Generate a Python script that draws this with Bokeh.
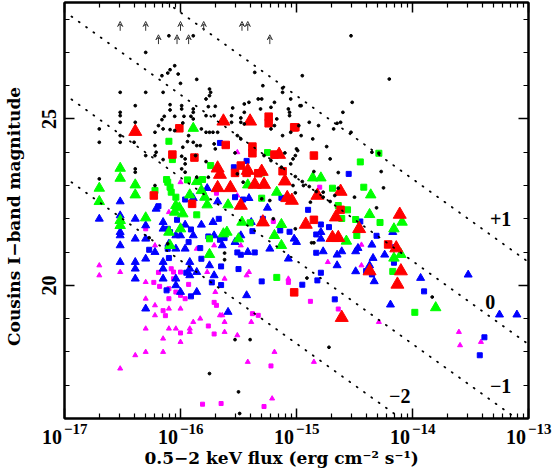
from bokeh.plotting import figure
from bokeh.models import ColumnDataSource, FixedTicker, Arrow, VeeHead, LinearAxis, LogAxis, Range1d
from bokeh.core.properties import value
from bokeh.embed import file_html
from bokeh.resources import INLINE

SERIF = "DejaVu Serif"
NUM = "Liberation Serif"
NB = "\u00a0"

# log10(flux), Cousins I magnitude
black_x = [-16.10,-15.89,-16.30,-16.05,-16.09,-16.11,-16.16,-16.02,-15.86,-16.00,-16.52,-16.30,-16.15,-15.75,-15.74,-15.75,-15.78,-15.29,-15.36,-15.12,-15.12,-15.05,-14.97,-16.39,-16.52,-16.52,-16.52,-16.39,-16.70,-16.52,-16.70,-16.52,-16.40,-16.09,-15.99,-15.99,-16.09,-15.76,-15.70,-15.89,-15.55,-15.45,-15.41,-15.33,-15.30,-15.19,-15.22,-15.07,-15.06,-15.06,-15.17,-15.45,-15.48,-15.31,-15.89,-15.91,-15.97,-16.05,-16.14,-16.16,-16.19,-16.22,-16.09,-16.05,-16.15,-15.98,-15.89,-15.78,-15.71,-15.56,-15.56,-15.48,-15.45,-15.68,-15.19,-15.12,-15.05,-15.22,-15.51,-15.48,-15.75,-15.78,-15.72,-15.82,-15.93,-15.94,-15.98,-15.89,-15.86,-15.83,-15.71,-15.70,-16.22,-16.21,-16.30,-16.22,-16.15,-15.99,-15.87,-15.96,-15.96,-15.99,-15.78,-15.53,-15.28,-15.10,-16.39,-16.39,-16.70,-16.22,-15.96,-15.86,-15.76,-15.51,-15.46,-15.22,-15.05,-14.99,-15.30,-15.13,-15.23,
           -14.53,-14.95,-14.20,-14.52,-14.60,-14.62,-14.65,-14.68,-14.53,-14.89,-14.81,-14.98,-14.96,-14.86,-14.74,-15.00,-15.01,-15.03,-14.71,-14.85,-14.64,-14.27,-15.01,-14.95,-15.03,-14.94,-14.89,-15.01,-14.83,-14.77,-14.64,-14.67,-14.77,-14.88,-14.71,-14.50,-14.25,-14.31,-14.96,-14.29,-14.35,
           -15.62,-15.62,-15.53,-15.40,-15.75,-15.50,-15.49,-16.11,-15.20,-16.27,-14.72,-13.83,-15.01,-14.87,-14.85,-14.91]
black_y = [27.50,27.50,27.00,26.60,26.48,26.38,26.30,26.35,26.19,26.07,25.80,25.80,25.80,25.90,25.80,25.70,25.60,26.00,26.40,25.93,25.80,25.60,25.40,25.40,25.20,25.10,24.90,24.90,24.70,24.50,24.30,24.30,24.30,25.43,25.40,25.30,25.27,25.37,25.38,25.30,25.33,25.45,25.50,25.60,25.60,25.50,25.35,25.30,25.20,25.10,25.00,25.20,25.03,25.30,25.20,25.08,25.08,25.08,25.08,24.98,24.80,24.60,24.68,24.65,24.70,24.88,25.00,25.10,25.10,25.10,24.90,24.90,24.85,24.60,24.80,24.50,24.60,24.70,24.50,24.40,24.60,24.60,24.60,24.70,24.50,24.32,24.15,24.30,24.20,24.20,24.25,24.10,24.20,24.00,23.90,23.90,23.78,23.88,23.90,23.80,23.65,23.50,23.72,23.98,23.90,23.98,23.50,23.40,23.20,23.00,23.40,23.25,23.25,23.35,23.10,23.75,23.65,24.05,22.60,23.55,22.55,
           27.50,26.30,26.20,25.50,25.20,24.90,24.87,24.70,24.60,24.90,24.80,24.80,24.50,24.40,24.17,24.10,23.90,23.80,23.80,23.42,23.39,23.42,23.27,23.12,23.00,23.00,22.97,22.78,22.82,22.80,22.92,22.70,22.65,22.50,22.52,22.65,22.93,22.33,25.40,23.97,24.00,
           20.97,20.77,18.37,18.37,17.35,16.80,16.15,21.25,22.00,21.43,18.14,19.65,21.70,21.28,21.28,20.22]

limit_x = [-16.52,-16.30,-16.00,-15.80,-15.47,-15.42,-16.19,-16.03,-15.93,-15.23]
limit_y = [27.65,27.65,27.65,27.65,27.65,27.65,27.25,27.25,27.25,27.25]

red_tri_x = [-16.39,-15.63,-15.40,-15.15,-15.68,-15.66,-15.30,-15.68,-15.57,-15.42,-15.36,-15.28,-15.10,-15.08,-15.48,-14.82,-14.62,-15.04,-15.29,-14.92,-14.66,-14.69,-14.64,-14.46,-14.11,-14.14,-14.37,-14.10,-14.13,-14.61]
red_tri_y = [24.62,24.93,24.93,23.93,23.52,23.33,23.42,22.93,22.93,23.45,23.03,23.03,23.13,22.63,22.40,22.70,22.82,22.55,21.90,21.83,22.05,21.43,21.43,21.70,22.13,21.12,20.43,20.43,20.03,19.03]
red_sq_x = [-16.01,-15.24,-15.24,-15.02,-15.61,-16.07,-15.88,-15.38,-15.38,-15.48,-15.53,-15.43,-15.33,-15.12,-15.19,-16.23,-15.90,-15.01,-14.85,-14.62,-15.02,-14.85,-14.21]
red_sq_y = [24.72,25.07,24.87,24.75,24.22,23.93,23.84,24.17,23.97,23.60,23.38,23.38,23.37,23.43,23.93,22.70,22.45,24.75,23.90,22.27,19.79,21.97,21.23]

green_tri_x = [-16.52,-16.52,-16.70,-16.70,-16.39,-16.39,-15.89,-15.86,-15.92,-15.77,-16.04,-16.01,-15.42,-15.59,-15.17,-15.79,-15.82,-14.86,-14.79,-14.36,-16.30,-16.52,-16.52,-16.05,-15.98,-16.00,-16.10,-16.09,-15.63,-15.60,-15.50,-15.75,-15.47,-15.13,-15.19,-15.13,-14.37,-14.57,-14.16,-14.09,-14.10,-14.16,-13.80]
green_tri_y = [23.52,23.22,22.92,22.52,23.02,22.72,24.72,23.12,22.72,22.42,22.40,22.33,23.02,22.42,22.80,22.65,22.85,23.23,23.23,22.72,22.03,21.95,21.80,22.20,22.15,21.70,21.60,21.20,21.55,21.60,21.40,20.93,21.90,21.83,21.50,21.20,22.13,21.33,21.70,21.90,20.93,20.82,19.33]
green_sq_x = [-16.10,-16.07,-15.74,-15.94,-15.81,-16.22,-16.12,-16.11,-16.09,-16.08,-16.04,-15.30,-15.25,-15.30,-14.45,-14.29,-14.69,-14.42,-14.64,-14.56,-15.86,-15.75,-15.40,-15.17,-14.61,-14.49,-14.28,-14.48,-14.17,-13.98]
green_sq_y = [24.33,23.78,23.60,23.17,23.18,22.85,23.18,23.10,22.95,22.80,22.65,22.62,23.99,23.38,23.71,23.97,22.92,22.95,22.40,22.27,22.12,21.40,21.88,20.24,22.01,21.98,21.89,21.50,20.42,19.19]

blue_tri_x = [-16.52,-15.41,-15.68,-15.77,-16.21,-15.25,-15.89,-16.70,-16.52,-16.39,-16.30,-16.15,-16.15,-16.52,-16.52,-16.39,-16.30,-15.96,-15.82,-15.72,-15.89,-16.04,-16.00,-16.10,-16.52,-16.22,-16.04,-15.96,-16.30,-16.52,-16.39,-16.39,-16.15,-16.15,-15.92,-15.92,-15.92,-15.86,-16.04,-16.04,-16.15,-16.39,-16.00,-15.86,-16.30,-15.75,-15.71,-15.59,-15.43,-15.64,-15.53,-15.48,-15.71,-15.39,-15.23,-15.07,-15.02,-15.00,-15.42,-14.79,-14.79,-14.77,-14.65,-14.61,-14.49,-14.47,-14.35,-14.24,-14.34,-14.37,-14.65,-14.49,-14.33,-14.19,-13.93,-13.52,-13.25,-13.10,-14.17]
blue_tri_y = [22.52,22.62,22.52,22.92,22.30,22.33,22.62,22.00,22.10,22.00,21.80,21.90,21.70,21.60,21.50,21.40,21.40,21.82,21.82,21.90,21.50,21.50,21.50,21.25,21.20,21.00,21.10,21.10,20.80,20.70,20.70,20.50,20.70,20.50,20.70,20.50,20.30,20.40,20.20,20.00,20.20,20.20,19.80,19.80,19.30,20.60,20.30,19.20,19.70,21.20,21.30,21.50,21.50,21.90,21.10,20.80,21.40,21.30,21.00,21.60,21.40,21.02,20.92,21.02,21.02,21.12,21.22,20.92,20.82,20.60,20.60,20.42,20.12,19.42,20.22,20.32,19.12,19.12,21.60]
blue_sq_x = [-15.66,-15.43,-15.54,-15.53,-15.46,-15.96,-16.19,-15.13,-14.55,-14.90,-16.03,-15.67,-15.91,-16.11,-16.09,-15.83,-15.93,-16.27,-16.11,-16.10,-15.95,-15.82,-15.65,-15.50,-15.30,-15.65,-15.73,-16.12,-15.91,-15.76,-15.66,-15.62,-15.51,-15.48,-15.36,-15.38,-15.14,-15.06,-15.29,-14.79,-14.83,-14.72,-14.45,-14.31,-14.83,-14.79,-14.82,-14.95,-14.67,-14.40,-14.35,-14.16,-13.90,-13.38,-13.42,-14.15]
blue_sq_y = [24.28,23.74,23.55,22.65,22.58,22.58,22.38,22.63,23.35,22.27,21.97,22.00,21.68,21.70,21.60,21.12,21.30,21.07,21.10,20.82,20.38,20.80,20.57,20.49,20.12,20.01,20.09,19.85,19.67,21.47,21.37,21.42,20.99,20.92,20.99,21.63,21.65,21.61,22.00,21.83,21.53,21.75,21.92,21.49,20.98,20.38,20.15,20.02,19.58,20.43,20.33,20.68,19.82,18.44,17.90,21.15]

mag_tri_x = [-16.00,-15.51,-15.51,-16.70,-16.70,-16.52,-16.30,-16.30,-16.22,-16.22,-16.10,-16.00,-16.30,-16.10,-16.04,-15.92,-15.92,-15.89,-15.83,-15.62,-15.62,-16.15,-16.00,-16.39,-16.30,-16.15,-16.52,-15.51,-15.39,-15.42,-15.19,-15.21,-15.64,-15.66,-15.71,-15.48,-15.86,-16.10,-16.22,-15.62,-15.70,-15.77,-15.43,-15.41,-15.07,-14.44,-14.73,-14.44,-14.29,-13.80,-13.60,-13.59,-13.41,-14.85]
mag_tri_y = [23.10,24.00,22.70,20.60,20.30,20.40,20.10,19.60,19.40,19.10,19.30,19.30,18.70,18.70,18.70,18.70,18.60,18.90,19.00,18.90,18.60,18.40,18.30,17.90,18.00,18.00,17.50,18.50,18.90,17.70,18.00,16.60,19.10,19.10,21.20,21.20,21.10,22.20,21.20,20.20,19.80,20.40,20.30,20.40,20.20,21.22,20.70,20.60,18.90,19.37,18.60,18.20,18.30,17.70]
mag_sq_x = [-15.69,-14.80,-16.19,-16.23,-16.18,-16.08,-16.06,-16.00,-16.06,-16.10,-16.04,-16.00,-15.96,-16.10,-15.93,-16.15,-16.13,-15.71,-15.69,-15.76,-15.71,-16.00,-15.22,-15.81,-15.65,-15.28,-15.33,-15.38,-15.07,-15.20,-16.30,-14.88,-14.64]
mag_sq_y = [22.77,22.95,20.39,20.09,19.97,20.50,20.40,20.40,20.20,19.90,19.80,19.70,19.60,19.60,20.03,19.24,19.09,19.49,19.40,18.78,18.54,18.57,17.58,16.43,16.45,16.36,19.10,19.15,20.09,21.92,21.70,19.52,19.29]

ratio_labels = ["+1", "0", "\u22121", "\u22122"]
ratio_label_x = [-13.24, -13.33, -13.24, -14.11]
ratio_label_y = [22.00, 19.49, 16.98, 16.68]
ratio_intercepts = [-11.8, -14.27, -16.76, -19.25]
ratio_starts = [-16.12, -16.94, -16.94, -16.94]

x_tick_values = [1e-17, 1e-16, 1e-15, 1e-14, 1e-13]
x_tick_bases = ["10", "10", "10", "10", "10"]
x_tick_powers = ["\u221217", "\u221216", "\u221215", "\u221214", "\u221213"]
y_major = [20, 25]
y_minor = [16, 17, 18, 19, 21, 22, 23, 24, 26, 27, 28]
x_minor = [m * 10.0**e for e in range(-17, -13) for m in range(2, 10)]

def flux(a):
    return [10.0**v for v in a]

p = figure(width=554, height=471, frame_width=464, frame_height=416,
           x_axis_type="log", x_range=Range1d(1e-17, 1e-13), y_range=Range1d(16, 28.5),
           output_backend="svg", toolbar_location=None,
           min_border_left=63, min_border_right=27, min_border_top=2, min_border_bottom=53,
           styles={"position": "absolute", "left": "0px", "top": "0px"})
p.grid.visible = False
p.outline_line_color = "black"
p.outline_line_width = 2
p.background_fill_color = "white"

def style_axis(ax, labels=True):
    ax.axis_line_color = "black"
    ax.axis_line_width = 2
    ax.major_tick_line_color = "black"
    ax.major_tick_line_width = 1.5
    ax.minor_tick_line_color = "black"
    ax.minor_tick_line_width = 1.2
    ax.major_tick_in = 10
    ax.major_tick_out = 0
    ax.minor_tick_in = 5
    ax.minor_tick_out = 0
    if not labels:
        ax.major_label_text_font_size = "0px"
        ax.major_label_text_color = None
        ax.axis_label = None

xticks = FixedTicker(ticks=x_tick_values, minor_ticks=x_minor)
yticks = FixedTicker(ticks=y_major, minor_ticks=y_minor)

# nearest axis below: ticks and the raised powers
xa = p.below[0]
xa.ticker = xticks
style_axis(xa)
xa.major_label_overrides = {v: NB * 6 + s for v, s in zip(x_tick_values, x_tick_powers)}
xa.major_label_text_font = NUM
xa.major_label_text_font_style = "bold"
xa.major_label_text_font_size = "15px"
xa.major_label_text_color = "black"
xa.major_label_standoff = 2

# second axis below: the bases, and the axis title
xb = LogAxis(ticker=FixedTicker(ticks=x_tick_values))
xb.axis_line_color = None
xb.major_tick_line_color = None
xb.minor_tick_line_color = None
xb.major_tick_in = 0
xb.major_tick_out = 0
xb.major_label_overrides = {v: s + NB * 5 for v, s in zip(x_tick_values, x_tick_bases)}
xb.major_label_text_font = NUM
xb.major_label_text_font_style = "bold"
xb.major_label_text_font_size = "20px"
xb.major_label_text_color = "black"
xb.major_label_standoff = -14
xb.axis_label = "0.5\u22122 keV flux (erg cm\u207b\u00b2 s\u207b\u00b9)" + NB * 5
xb.axis_label_standoff = -3
p.add_layout(xb, "below")

ya = p.left[0]
ya.ticker = yticks
style_axis(ya)
ya.major_label_orientation = "vertical"
ya.major_label_text_font = NUM
ya.major_label_text_font_style = "bold"
ya.major_label_text_font_size = "20px"
ya.major_label_text_color = "black"
ya.major_label_standoff = 8
ya.axis_label = "Cousins I\u2212band magnitude" + NB * 2
ya.axis_label_standoff = 16

for ax in (xb, ya):
    ax.axis_label_text_font = SERIF
    ax.axis_label_text_font_size = "17px"
    ax.axis_label_text_font_style = "bold"
    ax.axis_label_text_color = "black"

ta = LogAxis(ticker=xticks)
style_axis(ta, labels=False)
p.add_layout(ta, "above")
ra = LinearAxis(ticker=yticks)
style_axis(ra, labels=False)
p.add_layout(ra, "right")

# colored classes, back to front
p.scatter(flux(mag_tri_x), mag_tri_y, marker="triangle", size=5, color="#ff00ff")
p.scatter(flux(mag_sq_x), mag_sq_y, marker="square", size=4, color="#ff00ff")
p.scatter(flux(blue_tri_x), blue_tri_y, marker="triangle", size=8, color="#0000ff")
p.scatter(flux(blue_sq_x), blue_sq_y, marker="square", size=5, color="#0000ff")
p.scatter(flux(green_tri_x), green_tri_y, marker="triangle", size=10.5, color="#00ff00")
p.scatter(flux(green_sq_x), green_sq_y, marker="square", size=6, color="#00ff00")
p.scatter(flux(red_tri_x), red_tri_y, marker="triangle", size=13, color="#ff0000")
p.scatter(flux(red_sq_x), red_sq_y, marker="square", size=7.5, color="#ff0000")
p.scatter(flux(black_x), black_y, marker="circle", size=2.8, color="black")

# constant flux-ratio guide lines
for c, s in zip(ratio_intercepts, ratio_starts):
    p.line([10.0**s, 1e-13], [-2.5 * s + c, 2.5 * 13 + c], line_color="black",
           line_width=1.8, line_dash="1 8", line_cap="round")

# lower limits
arrow_src = ColumnDataSource(dict(x=flux(limit_x), y0=limit_y, y1=[v + 0.28 for v in limit_y]))
p.add_layout(Arrow(end=VeeHead(size=5, line_color="#333333", line_width=1, fill_color=None),
                   x_start="x", y_start="y0", x_end="x", y_end="y1", source=arrow_src,
                   line_color="#333333", line_width=1))

p.text(flux(ratio_label_x), ratio_label_y, text=ratio_labels, text_font=value(NUM),
       text_font_style="bold", text_font_size="20px", text_align="center",
       text_baseline="middle", text_color="black")

open("out.html", "w").write(file_html(p, INLINE))
